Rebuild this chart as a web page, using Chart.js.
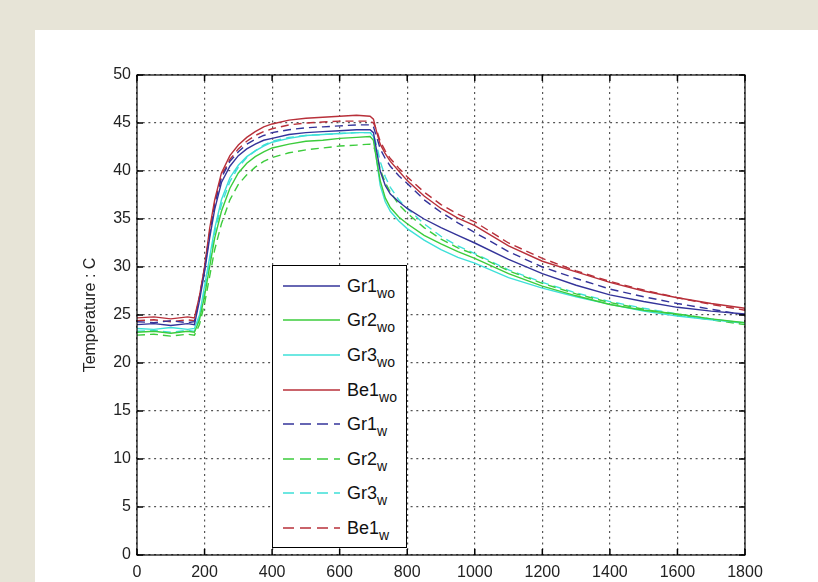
<!DOCTYPE html>
<html>
<head>
<meta charset="utf-8">
<script src="https://cdn.jsdelivr.net/npm/chart.js@4.4.1/dist/chart.umd.min.js"></script>
<style>
  html, body { margin: 0; padding: 0; }
  body { width: 818px; height: 582px; background: #e7e4d7; position: relative; overflow: hidden; font-family: "Liberation Sans", Arial, sans-serif; }
  #panel { position: absolute; left: 35px; top: 30px; right: 0; bottom: 0; background: #fff; }
  #mycanvas { position: absolute; left: 0; top: 0; }
  #legend { position: absolute; left: 272px; top: 265px; width: 135px; height: 283px; background: #fff; border: 1px solid #000; box-sizing: border-box; }
  .row { position: absolute; left: 0; height: 22px; display: flex; align-items: center; }
  .row svg { margin-left: 10px; margin-right: 7px; }
  .row span { font-size: 18px; line-height: 22px; color: #111; }
  .row sub { font-size: 14px; vertical-align: -6px; line-height: 0; }
</style>
</head>
<body>
<div id="panel"></div>
<canvas id="mycanvas" width="818" height="582"></canvas>
<div id="legend"></div>
<script>
// time axis (s)
var times = [0, 50, 100, 150, 170, 185, 200, 215, 230, 250, 275, 300, 325, 350, 375, 400, 450, 500, 550, 600, 650, 690, 700, 710, 720, 735, 750, 775, 800, 850, 900, 950, 1000, 1100, 1200, 1300, 1400, 1500, 1600, 1700, 1800];

// temperatures, without (wo) and with (w)
var gr1wo = [24.0, 24.1, 23.9, 24.1, 24.0, 26.5, 29.5, 33.0, 36.0, 38.8, 40.5, 41.6, 42.3, 42.8, 43.2, 43.4, 43.8, 44.0, 44.1, 44.2, 44.3, 44.3, 44.0, 42.0, 40.0, 38.5, 37.6, 36.8, 36.1, 35.0, 34.1, 33.3, 32.5, 30.8, 29.3, 28.1, 27.1, 26.4, 25.8, 25.4, 25.1];
var gr2wo = [23.2, 23.3, 23.1, 23.3, 23.2, 24.5, 27.0, 30.0, 33.0, 35.8, 38.2, 39.8, 40.8, 41.5, 42.0, 42.4, 42.8, 43.1, 43.2, 43.4, 43.5, 43.6, 43.2, 41.0, 39.0, 37.2, 36.2, 35.2, 34.5, 33.3, 32.4, 31.6, 30.9, 29.3, 28.0, 27.0, 26.1, 25.5, 25.1, 24.6, 24.2];
var gr3wo = [23.6, 23.5, 23.7, 23.5, 23.6, 25.0, 28.0, 31.0, 34.0, 37.0, 39.3, 40.6, 41.5, 42.1, 42.6, 43.0, 43.4, 43.7, 43.8, 43.9, 44.0, 44.0, 43.6, 41.0, 38.5, 36.8, 35.8, 34.8, 34.0, 32.8, 31.8, 31.0, 30.4, 28.9, 27.8, 26.9, 26.1, 25.4, 24.9, 24.5, 24.2];
var be1wo = [24.7, 24.8, 24.6, 24.8, 24.7, 27.0, 30.0, 34.0, 37.0, 39.8, 41.6, 42.7, 43.5, 44.1, 44.6, 44.9, 45.3, 45.5, 45.6, 45.7, 45.8, 45.7, 45.4, 44.0, 42.8, 41.8, 41.0, 40.0, 39.0, 37.4, 36.1, 35.1, 34.3, 32.2, 30.6, 29.5, 28.4, 27.5, 26.8, 26.2, 25.7];
var gr1w = [24.3, 24.2, 24.4, 24.2, 24.3, 26.8, 29.8, 33.4, 36.5, 39.3, 41.0, 42.0, 42.8, 43.3, 43.7, 44.0, 44.3, 44.5, 44.6, 44.7, 44.8, 44.8, 44.6, 43.5, 42.3, 41.3, 40.5, 39.5, 38.7, 37.0, 35.7, 34.6, 33.6, 31.6, 30.0, 28.8, 27.7, 26.9, 26.2, 25.6, 25.0];
var gr2w = [22.9, 23.0, 22.8, 23.0, 22.9, 24.0, 26.2, 29.0, 31.8, 34.5, 37.0, 38.6, 39.6, 40.4, 41.0, 41.4, 41.9, 42.2, 42.4, 42.6, 42.7, 42.8, 42.6, 41.6, 40.2, 38.8, 37.8, 36.5, 35.6, 34.1, 32.9, 32.0, 31.3, 29.6, 28.3, 27.2, 26.3, 25.6, 25.0, 24.5, 24.0];
var gr3w = [23.3, 23.4, 23.2, 23.4, 23.3, 24.8, 27.6, 30.6, 33.6, 36.5, 38.9, 40.4, 41.4, 42.1, 42.7, 43.1, 43.5, 43.7, 43.8, 43.9, 44.0, 44.0, 43.8, 42.6, 41.0, 39.4, 38.3, 37.0, 36.1, 34.5, 33.2, 32.2, 31.4, 29.7, 28.4, 27.3, 26.4, 25.7, 25.1, 24.6, 24.1];
var be1w = [24.4, 24.5, 24.3, 24.5, 24.4, 26.9, 29.9, 33.6, 36.7, 39.5, 41.2, 42.3, 43.1, 43.7, 44.1, 44.4, 44.8, 45.0, 45.1, 45.2, 45.2, 45.2, 45.0, 44.2, 43.1, 42.1, 41.3, 40.3, 39.4, 37.8, 36.5, 35.5, 34.7, 32.5, 30.9, 29.6, 28.5, 27.6, 26.8, 26.1, 25.5];

var names = ['Gr1', 'Gr2', 'Gr3', 'Be1', 'Gr1', 'Gr2', 'Gr3', 'Be1'];
var subs = ['wo', 'wo', 'wo', 'wo', 'w', 'w', 'w', 'w'];
var series = [gr1wo, gr2wo, gr3wo, be1wo, gr1w, gr2w, gr3w, be1w];
var colors = ['#34349a', '#3ccc3c', '#3ee0d8', '#b8303a', '#34349a', '#3ccc3c', '#3ee0d8', '#b8303a'];

var xTicks = [0, 200, 400, 600, 800, 1000, 1200, 1400, 1600, 1800];
var yTicks = [0, 5, 10, 15, 20, 25, 30, 35, 40, 45, 50];

var datasets = [];
for (var i = 0; i < series.length; i++) {
  datasets.push({
    label: names[i] + subs[i],
    data: times.map(function(t, k) { return { x: t, y: series[i][k] }; }),
    borderColor: colors[i],
    borderWidth: 1.4,
    borderDash: i < 4 ? [] : [8, 5],
    pointRadius: 0,
    tension: 0,
    fill: false
  });
}

// box round the plot + inward tick marks
var boxPlugin = {
  id: 'box',
  afterDraw: function(chart) {
    var ctx = chart.ctx, a = chart.chartArea;
    var xs = chart.scales.x, ys = chart.scales.y;
    ctx.save();
    ctx.setLineDash([]);
    ctx.strokeStyle = '#000';
    ctx.lineWidth = 1.5;
    ctx.beginPath();
    xTicks.forEach(function(v) {
      var px = xs.getPixelForValue(v);
      ctx.moveTo(px, a.bottom); ctx.lineTo(px, a.bottom - 6);
      ctx.moveTo(px, a.top); ctx.lineTo(px, a.top + 6);
    });
    yTicks.forEach(function(v) {
      var py = ys.getPixelForValue(v);
      ctx.moveTo(a.left, py); ctx.lineTo(a.left + 6, py);
      ctx.moveTo(a.right, py); ctx.lineTo(a.right - 6, py);
    });
    ctx.stroke();
    ctx.lineWidth = 1.2;
    ctx.strokeRect(a.left, a.top, a.right - a.left, a.bottom - a.top);
    ctx.restore();
  }
};

var ctx = document.getElementById('mycanvas').getContext('2d');
var mychart = new Chart(ctx, {
  type: 'line',
  data: { datasets: datasets },
  plugins: [boxPlugin],
  options: {
    responsive: false,
    animation: false,
    layout: { padding: { left: 0, top: 75, right: 73, bottom: 0 } },
    plugins: { legend: { display: false }, tooltip: { enabled: false } },
    scales: {
      x: {
        type: 'linear',
        min: 0, max: 1800,
        afterFit: function(s) { s.height = 27; },
        afterBuildTicks: function(s) { s.ticks = xTicks.map(function(v) { return { value: v }; }); },
        grid: { color: '#555', lineWidth: 1.2, drawTicks: false },
        border: { display: false, dash: [2, 3.7] },
        ticks: {
          color: '#222', padding: 8, maxRotation: 0,
          font: { family: 'Liberation Sans', size: 16 },
          callback: function(v) { return String(v); }
        }
      },
      y: {
        min: 0, max: 50,
        afterFit: function(s) { s.width = 137; },
        afterBuildTicks: function(s) { s.ticks = yTicks.map(function(v) { return { value: v }; }); },
        grid: { color: '#555', lineWidth: 1.2, drawTicks: false },
        border: { display: false, dash: [2, 3.7] },
        ticks: {
          color: '#222', padding: 6,
          font: { family: 'Liberation Sans', size: 16 },
          callback: function(v) { return String(v); }
        },
        title: { display: true, text: 'Temperature : C', color: '#222', padding: { top: 81, bottom: 0 }, font: { family: 'Liberation Sans', size: 16 } }
      }
    }
  }
});

// legend with subscripts
var leg = document.getElementById('legend');
for (var j = 0; j < names.length; j++) {
  var row = document.createElement('div');
  row.className = 'row';
  row.style.top = (20.7 + 34.6 * j - 11 - 1) + 'px';
  var dash = j < 4 ? '' : ' stroke-dasharray="11,6"';
  row.innerHTML = '<svg width="57" height="22"><line x1="0" y1="11" x2="57" y2="11" stroke="' + colors[j] + '" stroke-width="1.5"' + dash + '/></svg>' +
    '<span>' + names[j] + '<sub>' + subs[j] + '</sub></span>';
  leg.appendChild(row);
}
</script>
</body>
</html>
